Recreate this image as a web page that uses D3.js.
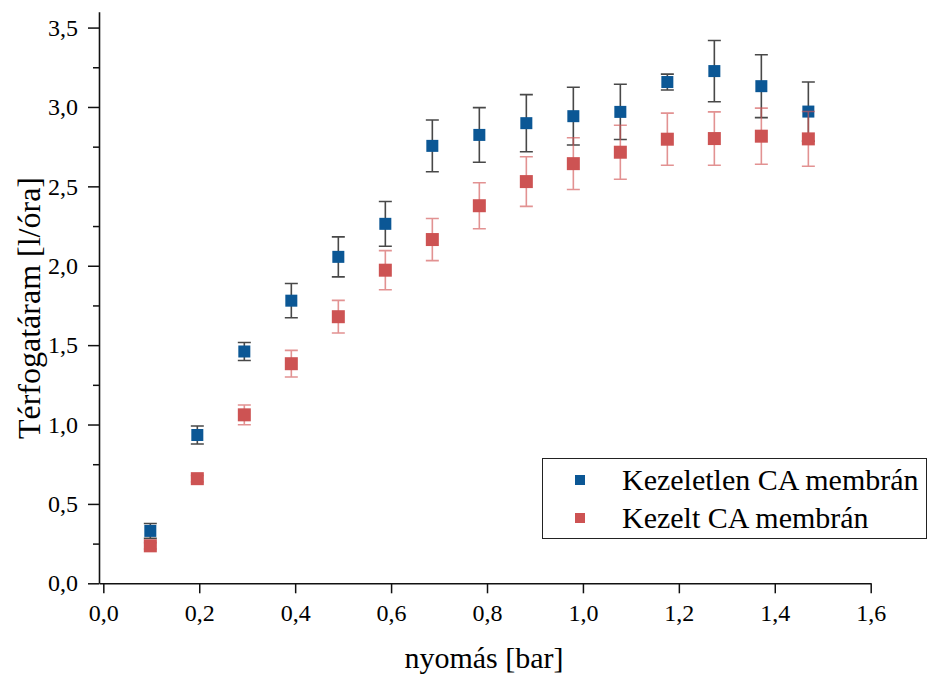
<!DOCTYPE html>
<html>
<head>
<meta charset="utf-8">
<script src="https://cdn.jsdelivr.net/npm/d3@7"></script>
<style>
  body { margin: 0; background: #fff; }
  svg { display: block; }
  svg text { font-family: "Liberation Serif", "Times New Roman", Times, serif; }
</style>
</head>
<body>
<div id="chart"></div>
<script>
// pressure values (bar)
var pressure = [0.098, 0.196, 0.294, 0.392, 0.49, 0.588, 0.686, 0.784, 0.882, 0.98, 1.078, 1.176, 1.274, 1.372, 1.47];

// Kezeletlen CA membrán
var untreated = [0.33, 0.934, 1.46, 1.78, 2.056, 2.264, 2.755, 2.824, 2.898, 2.942, 2.969, 3.157, 3.226, 3.131, 2.971];
var untreatedErr = [0.047, 0.057, 0.057, 0.108, 0.126, 0.141, 0.163, 0.172, 0.18, 0.182, 0.174, 0.05, 0.193, 0.198, 0.186];

// Kezelt CA membrán
var treated = [0.236, 0.659, 1.061, 1.383, 1.679, 1.972, 2.165, 2.378, 2.53, 2.643, 2.715, 2.797, 2.801, 2.816, 2.799];
var treatedErr = [0.02, 0.02, 0.062, 0.084, 0.103, 0.123, 0.133, 0.145, 0.156, 0.163, 0.17, 0.164, 0.168, 0.177, 0.172];

var seriesNames = ["Kezeletlen CA membrán", "Kezelt CA membrán"];
var xTicks = [0, 0.2, 0.4, 0.6, 0.8, 1.0, 1.2, 1.4, 1.6];
var yTicks = [0, 0.5, 1.0, 1.5, 2.0, 2.5, 3.0, 3.5];
var yMinor = [0.25, 0.75, 1.25, 1.75, 2.25, 2.75, 3.25];

var width = 927, height = 675;

var svg = d3.select("#chart")
  .append("svg")
	.attr("width", width)
	.attr("height", height);

var x = d3.scaleLinear()
	.domain([-0.009, 1.6])
	.range([99, 870.7]);

var y = d3.scaleLinear()
	.domain([0, 3.6])
	.range([583.3, 11.7]);

var fmt = function(d) { return d3.format(".1f")(d).replace(".", ","); };

// X axis
svg.append("g")
	.attr("transform", "translate(0," + y(0) + ")")
	.call(d3.axisBottom(x).tickValues(xTicks).tickSize(10).tickPadding(11).tickSizeOuter(0).tickFormat(fmt));

// Y axis
svg.append("g")
	.attr("transform", "translate(" + x(-0.009) + ",0)")
	.call(d3.axisLeft(y).tickValues(yTicks).tickSize(11).tickPadding(10).tickSizeOuter(0).tickFormat(fmt));

// minor ticks on y
svg.append("g")
	.attr("transform", "translate(" + x(-0.009) + ",0)")
	.call(d3.axisLeft(y).tickValues(yMinor).tickSize(6).tickSizeOuter(0).tickFormat(""))
	.select(".domain").remove();

svg.selectAll("g").attr("font-family", null);
svg.selectAll(".domain").attr("stroke", "#111").attr("stroke-width", 1.6);
svg.selectAll(".tick line").attr("stroke", "#111").attr("stroke-width", 1.5);
svg.selectAll(".tick text")
	.style("font-size", "24px")
	.attr("fill", "#000");

// axis titles
svg.append("text")
	.attr("x", 484)
	.attr("y", 668)
	.attr("text-anchor", "middle")
	.style("font-size", "30px")
	.text("nyomás [bar]");

svg.append("text")
	.attr("transform", "translate(40,308) rotate(-90)")
	.attr("text-anchor", "middle")
	.style("font-size", "32px")
	.text("Térfogatáram [l/óra]");

function drawSeries(vals, errs, color, errColor, errOpacity, size) {
	var g = svg.append("g");
	var cap = 6.5;
	// error bars
	g.selectAll("path.err")
	  .data(vals)
	  .enter().append("path")
		.attr("fill", "none")
		.attr("stroke", errColor)
		.attr("stroke-opacity", errOpacity)
		.attr("stroke-width", 1.6)
		.attr("d", function(d, i) {
			var cx = x(pressure[i]), y1 = y(d + errs[i]), y2 = y(d - errs[i]);
			return "M" + (cx - cap) + "," + y1 + "H" + (cx + cap) +
				"M" + cx + "," + y1 + "V" + y2 +
				"M" + (cx - cap) + "," + y2 + "H" + (cx + cap);
		});
	// markers
	g.selectAll("rect")
	  .data(vals)
	  .enter().append("rect")
		.attr("x", function(d, i) { return x(pressure[i]) - size / 2; })
		.attr("y", function(d) { return y(d) - size / 2; })
		.attr("width", size)
		.attr("height", size)
		.attr("fill", color);
}

drawSeries(untreated, untreatedErr, "#0b5795", "#1a1a1a", 0.8, 12);
drawSeries(treated, treatedErr, "#cd5353", "#d35757", 0.65, 13);

// legend
var legend = svg.append("g");
legend.append("rect")
	.attr("x", 542.5)
	.attr("y", 458.5)
	.attr("width", 384)
	.attr("height", 80)
	.attr("fill", "#fff")
	.attr("stroke", "#222")
	.attr("stroke-width", 1);

var legendColors = ["#0b5795", "#cd5353"];
var legendY = [480, 518];
seriesNames.forEach(function(name, i) {
	legend.append("rect")
		.attr("x", 575)
		.attr("y", legendY[i] - 5)
		.attr("width", 10)
		.attr("height", 10)
		.attr("fill", legendColors[i]);
	legend.append("text")
		.attr("x", 622)
		.attr("y", legendY[i] + 9.5)
		.style("font-size", "30px")
		.text(name);
});
</script>
</body>
</html>
